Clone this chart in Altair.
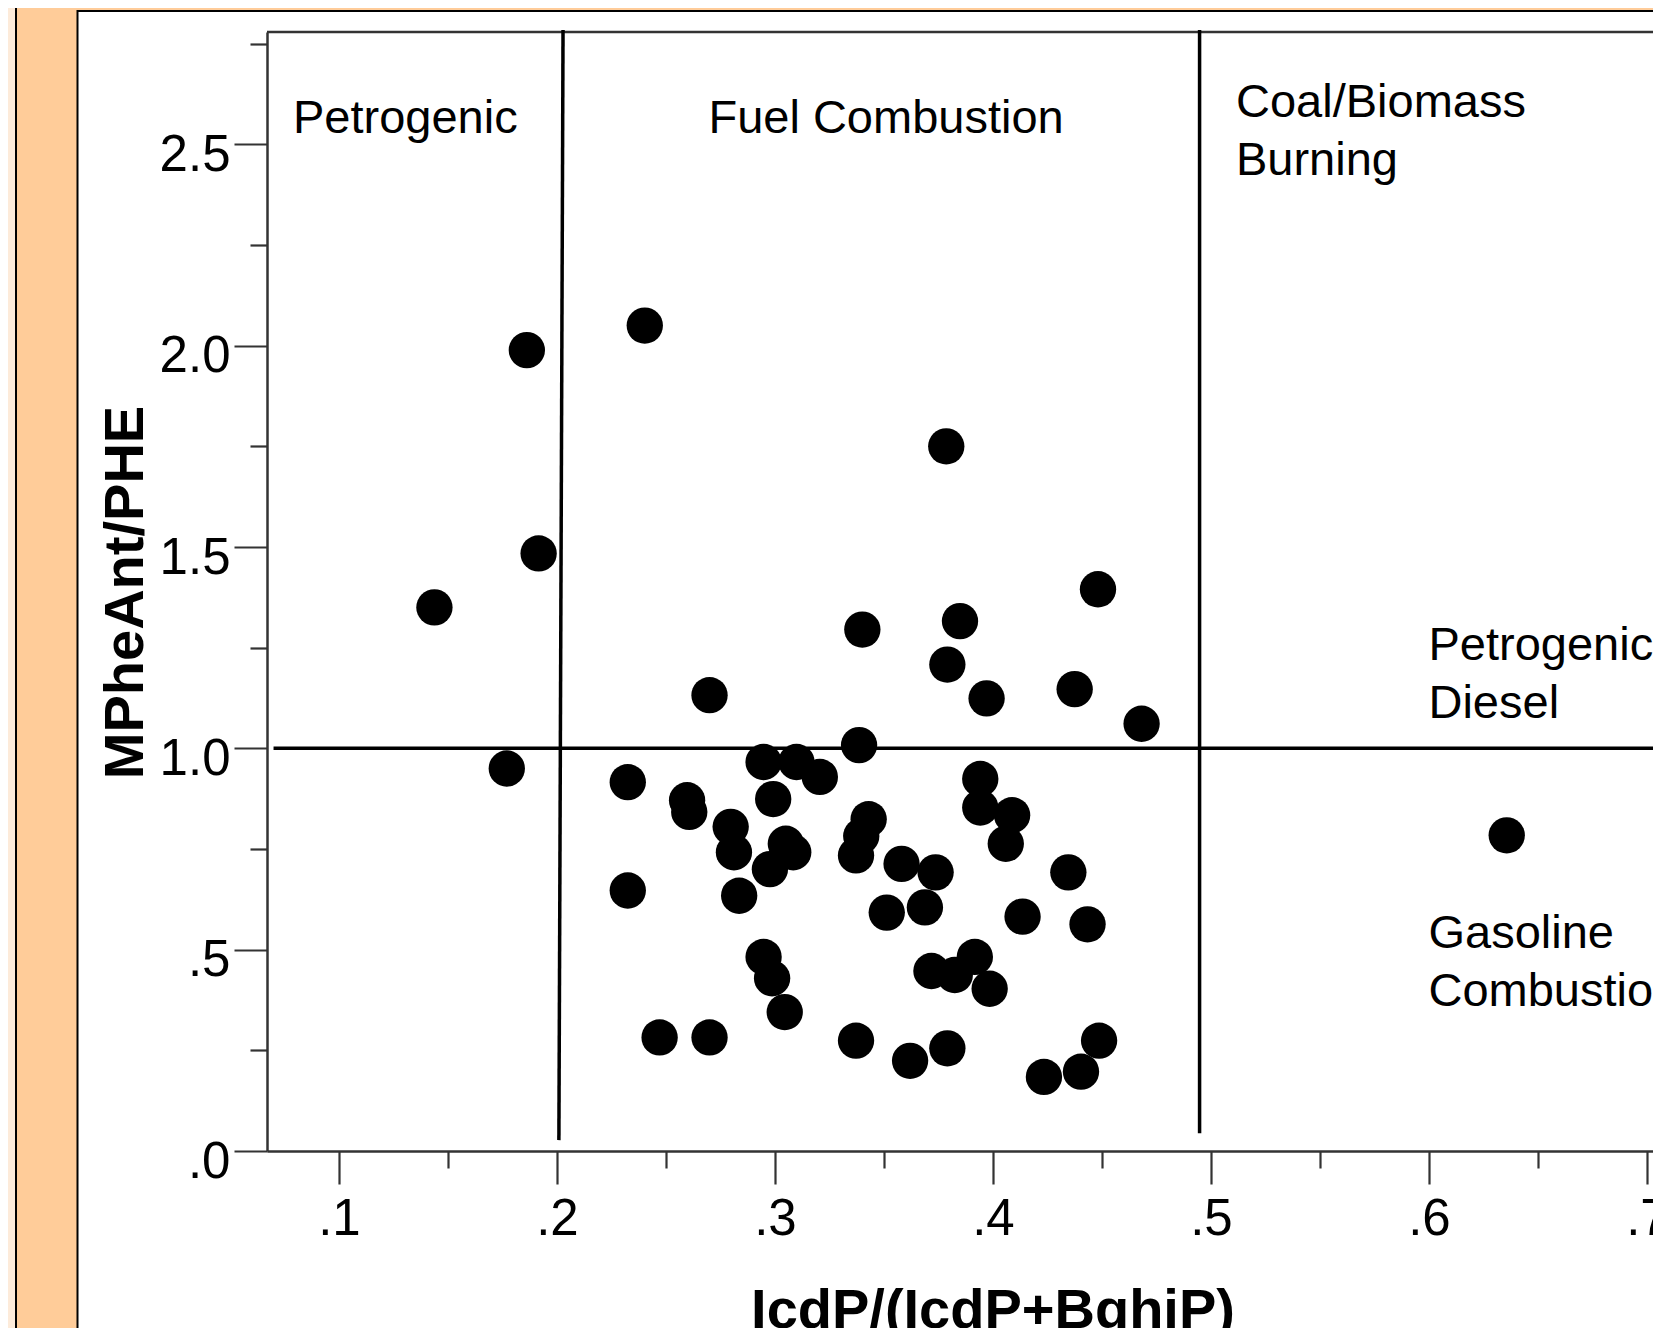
import altair as alt
import pandas as pd

# ---- data ----
x_vals = [0.1438, 0.1862, 0.1916, 0.1770, 0.2403, 0.3786, 0.4482, 0.3849, 0.3401, 0.3791,
          0.3971, 0.4375, 0.4682, 0.2700, 0.3386, 0.2325, 0.2597, 0.2607, 0.2948, 0.3099,
          0.3206, 0.2992, 0.2797, 0.2812, 0.3050, 0.3084, 0.2977, 0.2836, 0.2325, 0.3430,
          0.3396, 0.3372, 0.3942, 0.3942, 0.4088, 0.4059, 0.3581, 0.3737, 0.3688, 0.3513,
          0.4136, 0.4346, 0.4434, 0.2948, 0.2987, 0.3045, 0.3718, 0.3825, 0.3917, 0.3985,
          0.2471, 0.2700, 0.3372, 0.3620, 0.3791, 0.4234, 0.4404, 0.4487, 0.6357]
y_vals = [1.350, 1.989, 1.484, 0.950, 2.050, 1.750, 1.395, 1.316, 1.295, 1.208,
          1.124, 1.147, 1.061, 1.132, 1.008, 0.916, 0.871, 0.842, 0.966, 0.966,
          0.929, 0.874, 0.805, 0.742, 0.763, 0.742, 0.700, 0.634, 0.647, 0.824,
          0.782, 0.734, 0.924, 0.853, 0.834, 0.763, 0.713, 0.692, 0.605, 0.592,
          0.582, 0.692, 0.563, 0.482, 0.429, 0.345, 0.447, 0.437, 0.482, 0.403,
          0.282, 0.282, 0.274, 0.224, 0.255, 0.184, 0.197, 0.274, 0.784]

x_major = [0.1, 0.2, 0.3, 0.4, 0.5, 0.6, 0.7]
x_minor = [0.15, 0.25, 0.35, 0.45, 0.55, 0.65]
y_major = [0.0, 0.5, 1.0, 1.5, 2.0, 2.5]
y_minor = [0.25, 0.75, 1.25, 1.75, 2.25, 2.75]

x_title = "IcdP/(IcdP+BghiP)"
y_title = "MPheAnt/PHE"

region_labels = ["Petrogenic", "Fuel Combustion", "Coal/Biomass\nBurning",
                 "Petrogenic/\nDiesel", "Gasoline\nCombustion"]
label_x = [0.0789, 0.2695, 0.5115, 0.5998, 0.5998]
label_y = [2.528, 2.528, 2.568, 1.219, 0.504]

line_x = [0.2028, 0.4948, 0.070]
line_x2 = [0.2009, 0.4948, 0.720]
line_y = [2.784, 2.784, 1.0]
line_y2 = [0.027, 0.044, 1.0]

X_DOMAIN = [0.067, 0.7028]
Y_DOMAIN = [0.0, 2.779]

FONT = "Liberation Sans"
AXC = "#333333"

pts = pd.DataFrame({"x": x_vals, "y": y_vals})
lines = pd.DataFrame({"x": line_x, "x2": line_x2, "y": line_y, "y2": line_y2})
labels = pd.DataFrame({"x": label_x, "y": label_y, "t": region_labels})
one = pd.DataFrame({"k": [0]})

xs = alt.Scale(domain=X_DOMAIN, nice=False, zero=False)
ys = alt.Scale(domain=Y_DOMAIN, nice=False, zero=False)

lab_expr = "replace(format(datum.value, '.1f'), '0.', '.')"

ax_x_major = alt.Axis(orient="bottom", values=x_major, tickSize=33, tickWidth=2.2,
                      tickColor=AXC, domainColor=AXC, domainWidth=2.5, grid=False,
                      labelExpr=lab_expr, labelFont=FONT, labelFontSize=51,
                      labelColor="black", labelPadding=50, labelBaseline="alphabetic",
                      labelAlign="center", labelFlush=False, labelOverlap=False,
                      title=x_title, titleFont=FONT, titleFontSize=56,
                      titleFontWeight="bold", titleColor="black", titleX=725.5,
                      titleY=176, titleAlign="center", titleBaseline="alphabetic",
                      zindex=1)
ax_y_major = alt.Axis(orient="left", values=y_major, tickSize=33, tickWidth=2.2,
                      tickColor=AXC, domainColor=AXC, domainWidth=2.5, grid=False,
                      labelExpr=lab_expr, labelFont=FONT, labelFontSize=51,
                      labelColor="black", labelPadding=4, labelBaseline="alphabetic",
                      labelAlign="right", labelOffset=26, labelFlush=False,
                      labelOverlap=False,
                      title=y_title, titleFont=FONT, titleFontSize=56,
                      titleFontWeight="bold", titleColor="black", titleAngle=270,
                      titleX=-125, titleY=560, titleAlign="center",
                      titleBaseline="alphabetic", zindex=1)
ax_x_minor = alt.Axis(orient="bottom", values=x_minor, tickSize=17, tickWidth=2.2,
                      tickColor=AXC, domain=False, labels=False, grid=False,
                      title=None, zindex=1)
ax_y_minor = alt.Axis(orient="left", values=y_minor, tickSize=17, tickWidth=2.2,
                      tickColor=AXC, domain=False, labels=False, grid=False,
                      title=None, zindex=1)

light = alt.Chart(one).mark_rect(fill="#FDEBDA", stroke="black", strokeWidth=2).encode(
    x=alt.value(-280), x2=alt.value(-251), y=alt.value(-100), y2=alt.value(1500))
panel = alt.Chart(one).mark_rect(fill="white", stroke="black", strokeWidth=2).encode(
    x=alt.value(-189.5), x2=alt.value(1600), y=alt.value(-21), y2=alt.value(1500))
frame_top = alt.Chart(one).mark_rule(color=AXC, strokeWidth=2.5).encode(
    x=alt.value(0), x2=alt.value(1500), y=alt.value(0))

rules = alt.Chart(lines).mark_rule(color="black", strokeWidth=3.5, clip=False).encode(
    x=alt.X("x:Q", scale=xs, axis=ax_x_minor),
    x2="x2:Q",
    y=alt.Y("y:Q", scale=ys, axis=ax_y_minor),
    y2="y2:Q",
)

points = alt.Chart(pts).mark_circle(size=1320, color="black", opacity=1).encode(
    x=alt.X("x:Q", scale=xs, axis=ax_x_major),
    y=alt.Y("y:Q", scale=ys, axis=ax_y_major),
)

texts = alt.Chart(labels).mark_text(
    align="left", baseline="alphabetic", font=FONT, fontSize=47, color="black",
    lineBreak="\n", lineHeight=58,
).encode(
    x=alt.X("x:Q", scale=xs, axis=None),
    y=alt.Y("y:Q", scale=ys, axis=None),
    text="t:N",
)

chart = alt.layer(light, panel, frame_top, rules, points, texts).resolve_axis(
    x="independent", y="independent"
).properties(
    width=1386,
    height=1119,
    autosize=alt.AutoSizeParams(type="none"),
    padding={"left": 259, "top": 24, "right": 0, "bottom": 177},
    background="#FFCC99",
).configure_view(stroke=None)

chart.save("out.html", embed_options={"renderer": "svg", "actions": False})
